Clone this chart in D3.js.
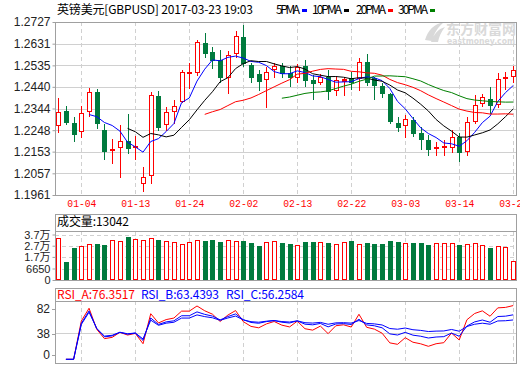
<!DOCTYPE html>
<html><head><meta charset="utf-8">
<script src="https://cdn.jsdelivr.net/npm/d3@7/dist/d3.min.js"></script>
<style>
html,body{margin:0;padding:0;background:#fff;}
svg{display:block;}
</style></head>
<body>
<svg id="c" width="520" height="365"></svg>
<script>
// ---------- DATA ----------
const dates = ["12-30","01-02","01-03","01-04","01-05","01-06","01-09","01-10","01-11","01-12",
"01-13","01-16","01-17","01-18","01-19","01-20","01-23","01-24","01-25","01-26",
"01-27","01-30","01-31","02-01","02-02","02-03","02-06","02-07","02-08","02-09",
"02-10","02-13","02-14","02-15","02-16","02-17","02-20","02-21","02-22","02-23",
"02-24","02-27","02-28","03-01","03-02","03-03","03-06","03-07","03-08","03-09",
"03-10","03-13","03-14","03-15","03-16","03-17","03-20","03-21","03-22","03-23"];
const openP = [1.2270,1.2334,1.2280,1.2243,1.2332,1.2417,1.2249,1.2165,1.2172,1.2199,
1.2178,1.2013,1.2048,1.2399,1.2274,1.2334,1.2376,1.2503,1.2507,1.2633,
1.2593,1.2559,1.2485,1.2588,1.2662,1.2537,1.2497,1.2473,1.2518,1.2532,
1.2503,1.2482,1.2532,1.2470,1.2463,1.2485,1.2426,1.2464,1.2478,1.2478,
1.2550,1.2478,1.2445,1.2408,1.2278,1.2271,1.2293,1.2234,1.2205,1.2173,
1.2172,1.2172,1.2216,1.2156,1.2290,1.2370,1.2387,1.2364,1.2483,1.2488];
const highP = [1.2390,1.2355,1.2306,1.2355,1.2435,1.2430,1.2275,1.2210,1.2270,1.2320,
1.2222,1.2085,1.2417,1.2423,1.2349,1.2382,1.2514,1.2547,1.2647,1.2677,
1.2618,1.2603,1.2600,1.2687,1.2714,1.2547,1.2514,1.2529,1.2547,1.2544,
1.2532,1.2541,1.2559,1.2492,1.2497,1.2514,1.2488,1.2483,1.2507,1.2566,
1.2584,1.2485,1.2456,1.2414,1.2305,1.2315,1.2308,1.2263,1.2227,1.2197,
1.2205,1.2249,1.2234,1.2308,1.2404,1.2408,1.2441,1.2500,1.2507,1.2532];
const lowP = [1.2241,1.2275,1.2201,1.2219,1.2311,1.2259,1.2122,1.2104,1.2039,1.2148,
1.2119,1.1980,1.2015,1.2249,1.2249,1.2278,1.2371,1.2433,1.2492,1.2573,
1.2522,1.2463,1.2414,1.2571,1.2534,1.2461,1.2426,1.2349,1.2485,1.2485,
1.2444,1.2463,1.2444,1.2385,1.2452,1.2387,1.2402,1.2404,1.2429,1.2426,
1.2448,1.2387,1.2396,1.2281,1.2246,1.2216,1.2222,1.2166,1.2138,1.2137,
1.2138,1.2150,1.2110,1.2139,1.2278,1.2355,1.2325,1.2349,1.2429,1.2461];
const closeP = [1.2329,1.2286,1.2232,1.2323,1.2417,1.2281,1.2157,1.2166,1.2199,1.2170,
1.2179,1.2039,1.2402,1.2263,1.2327,1.2355,1.2504,1.2504,1.2637,1.2591,
1.2559,1.2485,1.2580,1.2665,1.2547,1.2485,1.2466,1.2507,1.2532,1.2500,
1.2485,1.2529,1.2470,1.2458,1.2482,1.2423,1.2470,1.2476,1.2463,1.2549,
1.2463,1.2448,1.2414,1.2290,1.2263,1.2298,1.2234,1.2208,1.2163,1.2174,
1.2178,1.2216,1.2153,1.2286,1.2358,1.2394,1.2360,1.2476,1.2484,1.2514];
const volume = [33500,12400,24900,26700,28200,28400,27500,31700,31100,34700,
32900,32000,33800,32300,31100,30200,28400,30200,31700,31400,
32300,30200,31700,31100,31100,29600,26900,29900,30800,29300,
28400,27300,30200,30200,30200,29300,28200,29900,31100,28200,
29300,28400,28400,31100,30200,29100,29300,29300,27500,29100,
29100,29100,27500,28200,29100,27300,24900,26700,25800,13042];
const dateTicks = ["01-04","01-13","01-24","02-02","02-13","02-22","03-03","03-14","03-23"];
const priceTicks = [1.1961,1.2057,1.2153,1.2248,1.2344,1.2440,1.2535,1.2631,1.2727];
const volTickValues = [0,6650,17000,27000,37000];
const volTickLabels = ["0","6650","1.7万","2.7万","3.7万"];
const rsiTicks = [0,38,82];
const maPeriods = [5,10,20,30];
const maNames = ["5PMA","10PMA","20PMA","30PMA"];
const rsiPeriods = [6,12,24];
const rsiNames = ["RSI_A","RSI_B","RSI_C"];
const rsiLast = ["76.3517","63.4393","56.2584"];
const titleText = "英镑美元[GBPUSD] 2017-03-23 19:03";
const volTitle = "成交量:13042";

// ---------- STYLE ----------
const RED = "#ff0000", GREEN = "#007a3d", BLUE = "#0000ff", BLACK = "#000000", MAGREEN = "#008000";
const maColors = [BLUE, BLACK, RED, MAGREEN];
const rsiColors = [RED, BLUE, BLUE];
const FRAME = "#a0a0a0", GRID = "#d0d0d0";
const L = 55, R = 516;
const main = {top: 22, bottom: 195};
const vol = {top: 214, sep: 231, bottom: 280};
const rsi = {top: 288, sep: 301, bottom: 363};

const svg = d3.select("#c");
const x = d3.scalePoint().domain(dates).range([58.2, 513.2]);
const y = d3.scaleLinear().domain([1.1961, 1.2727]).range([main.bottom, main.top]);
const yv = d3.scaleLinear().domain([0, 6650, 37000]).range([vol.bottom, 268.5, 234.5]);
const yr = d3.scaleLinear().domain([0, 76.35]).range([359.3, 306]);
const cx = d => Math.round(x(d));

// ---------- GRIDS ----------
function vgrid(top, bottom){
  svg.append("g").selectAll("line").data(dateTicks).join("line")
    .attr("x1", d => cx(d)+0.5).attr("x2", d => cx(d)+0.5)
    .attr("y1", top).attr("y2", bottom)
    .attr("stroke", GRID).attr("stroke-dasharray", "4,3");
}
svg.append("g").selectAll("line").data(priceTicks.slice(1,-1)).join("line")
  .attr("x1", L).attr("x2", R)
  .attr("y1", d => Math.round(y(d))+0.5).attr("y2", d => Math.round(y(d))+0.5)
  .attr("stroke", GRID);
vgrid(main.top, main.bottom);
vgrid(vol.sep, vol.bottom);
vgrid(rsi.sep, rsi.bottom);
svg.append("g").selectAll("line").data([38]).join("line")
  .attr("x1", L).attr("x2", R)
  .attr("y1", d => Math.round(yr(d))+0.5).attr("y2", d => Math.round(yr(d))+0.5)
  .attr("stroke", GRID);
svg.append("g").selectAll("line").data(volTickValues.slice(1)).join("line")
  .attr("x1", L).attr("x2", R)
  .attr("y1", d => Math.round(yv(d))+0.5).attr("y2", d => Math.round(yv(d))+0.5)
  .attr("stroke", GRID).attr("stroke-dasharray", "4,3");

// ---------- WATERMARK ----------
const wm = svg.append("g").attr("fill", "#d9d9d9");
wm.append("path").attr("d", "M425,40 C428,30 434,24 444,22 C438,27 434,33 432,41 Z M431,42 C434,34 438,29 445,27 C441,32 439,37 438,42 Z");
wm.append("text").attr("x", 446).attr("y", 34).attr("font-family", "Noto Sans CJK SC")
  .attr("font-size", 14).attr("font-weight", "bold").attr("textLength", 70)
  .attr("lengthAdjust", "spacingAndGlyphs").text("东方财富网");
wm.append("text").attr("x", 447).attr("y", 44).attr("font-family", "DejaVu Sans")
  .attr("font-size", 8).attr("font-weight", "bold").attr("textLength", 68)
  .attr("lengthAdjust", "spacingAndGlyphs").text("eastmoney.com");

// ---------- CANDLES ----------
const idx = d3.range(dates.length);
const cg = svg.append("g");
idx.forEach(i => {
  const o = openP[i], c = closeP[i], up = c >= o;
  const col = up ? RED : GREEN;
  const px = cx(dates[i]);
  const yt = Math.round(y(Math.max(o, c))), yb = Math.round(y(Math.min(o, c)));
  cg.append("line").attr("x1", px+0.5).attr("x2", px+0.5)
    .attr("y1", Math.round(y(highP[i]))).attr("y2", Math.round(y(lowP[i]))+1)
    .attr("stroke", col);
  if (yb - yt < 3) {
    cg.append("rect").attr("x", px-2).attr("y", yt).attr("width", 5).attr("height", Math.max(2, yb-yt+1)).attr("fill", col);
  } else if (up) {
    cg.append("rect").attr("x", px-1.5).attr("y", yt+0.5).attr("width", 4).attr("height", yb-yt)
      .attr("fill", "#fff").attr("stroke", col);
  } else {
    cg.append("rect").attr("x", px-2).attr("y", yt).attr("width", 5).attr("height", yb-yt+1).attr("fill", col);
  }
});

// ---------- MOVING AVERAGES ----------
maPeriods.forEach((n, k) => {
  const vals = closeP.map((c, i) => i < n-1 ? null : d3.mean(closeP.slice(i-n+1, i+1)));
  const line = d3.line().defined(d => d[1] != null).x(d => x(d[0])).y(d => y(d[1]));
  svg.append("path").datum(dates.map((d, i) => [d, vals[i]]))
    .attr("d", line).attr("fill", "none").attr("stroke", maColors[k]).attr("stroke-width", 1);
});

// ---------- VOLUME ----------
const vg = svg.append("g");
idx.forEach(i => {
  const up = closeP[i] >= openP[i];
  const px = cx(dates[i]);
  const yt = Math.round(yv(volume[i]));
  if (up) vg.append("rect").attr("x", px-1.5).attr("y", yt+0.5).attr("width", 4).attr("height", vol.bottom-yt-1)
      .attr("fill", "#fff").attr("stroke", RED);
  else vg.append("rect").attr("x", px-2).attr("y", yt).attr("width", 5).attr("height", vol.bottom-yt).attr("fill", GREEN);
});

// ---------- RSI (SMA smoothing, zero start) ----------
const diff = closeP.map((c, i) => i === 0 ? null : c - closeP[i-1]);
rsiPeriods.forEach((n, k) => {
  let u = 0, a = 0;
  const vals = diff.map(d => {
    if (d == null) return null;
    u = (Math.max(d, 0) + (n-1)*u)/n;
    a = (Math.abs(d) + (n-1)*a)/n;
    return a === 0 ? 0 : u/a*100;
  });
  const line = d3.line().defined(d => d[1] != null).x(d => x(d[0])).y(d => yr(d[1]));
  svg.append("path").datum(dates.map((d, i) => [d, vals[i]]))
    .attr("d", line).attr("fill", "none").attr("stroke", rsiColors[k]).attr("stroke-width", 1);
});

// ---------- FRAMES ----------
function frame(top, bottom, sep){
  svg.append("rect").attr("x", L+0.5).attr("y", top+0.5).attr("width", R-L).attr("height", bottom-top)
    .attr("fill", "none").attr("stroke", FRAME);
  if (sep) svg.append("line").attr("x1", L).attr("x2", R+1).attr("y1", sep+0.5).attr("y2", sep+0.5).attr("stroke", FRAME);
}
frame(main.top, main.bottom);
frame(vol.top, vol.bottom, vol.sep);
frame(rsi.top, rsi.bottom, rsi.sep);

// ---------- AXES ----------
const yAxis = d3.axisLeft(y).tickValues(priceTicks).tickFormat(d3.format(".4f")).tickSize(3).tickPadding(2);
const ga = svg.append("g").attr("transform", `translate(${L+0.5},0)`).call(yAxis);
ga.select(".domain").remove();
ga.selectAll("line").attr("stroke", FRAME);
ga.selectAll("text").attr("font-family", "Liberation Sans, Arial").attr("font-size", 12).attr("fill", "#222");

const vAxis = d3.axisLeft(yv).tickValues(volTickValues).tickFormat((d, i) => volTickLabels[i]).tickSize(3).tickPadding(2);
const gv = svg.append("g").attr("transform", `translate(${L+0.5},0)`).call(vAxis);
gv.select(".domain").remove();
gv.selectAll("line").attr("stroke", FRAME);
gv.selectAll("text").attr("font-family", "Liberation Sans, Noto Sans CJK SC").attr("font-size", 11).attr("fill", "#222");

// RSI labels: kept inside the panel
const gr = svg.append("g");
rsiTicks.forEach(v => {
  const ly = Math.max(309.3, Math.min(355, yr(v) + 1.5));
  gr.append("line").attr("x1", L-3).attr("x2", L).attr("y1", Math.round(ly)+0.5).attr("y2", Math.round(ly)+0.5).attr("stroke", FRAME);
  gr.append("text").attr("x", L-5).attr("y", ly).attr("dy", "0.32em").attr("text-anchor", "end")
    .attr("font-family", "Liberation Sans, Arial").attr("font-size", 12).attr("fill", "#222").text(v);
});

const xAxis = d3.axisBottom(x).tickValues(dateTicks).tickSize(0).tickPadding(0);
const gx = svg.append("g").attr("transform", `translate(0,${main.bottom+4})`).call(xAxis);
gx.select(".domain").remove();
gx.selectAll("text").attr("font-family", "Liberation Mono, DejaVu Sans Mono").attr("font-size", 11)
  .attr("fill", RED).attr("dy", "0.71em").attr("textLength", 29).attr("lengthAdjust", "spacingAndGlyphs");

// ---------- HEADER TEXTS ----------
const TF = "Noto Sans CJK SC";
svg.append("text").attr("x", 57).attr("y", 14).attr("font-family", TF).attr("font-size", 12)
  .attr("textLength", 196).attr("lengthAdjust", "spacing").text(titleText);
const lx = [276, 312, 356, 398];
maNames.forEach((n, k) => {
  svg.append("text").attr("x", lx[k]).attr("y", 14).attr("font-family", TF).attr("font-size", 12)
    .attr("textLength", n.length*6).attr("lengthAdjust", "spacing").text(n);
  svg.append("rect").attr("x", lx[k] + n.length*6 + 2).attr("y", 9).attr("width", 5).attr("height", 3).attr("fill", maColors[k]);
});
svg.append("text").attr("x", 57).attr("y", 226).attr("font-family", TF).attr("font-size", 12)
  .attr("textLength", 72).attr("lengthAdjust", "spacing").text(volTitle);
const rx = [57, 141, 226];
rsiNames.forEach((n, k) => {
  const t = n + ":" + rsiLast[k];
  svg.append("text").attr("x", rx[k]).attr("y", 299).attr("font-family", TF).attr("font-size", 12)
    .attr("fill", rsiColors[k]).attr("textLength", t.length*6).attr("lengthAdjust", "spacing").text(t);
});
</script>
</body></html>
